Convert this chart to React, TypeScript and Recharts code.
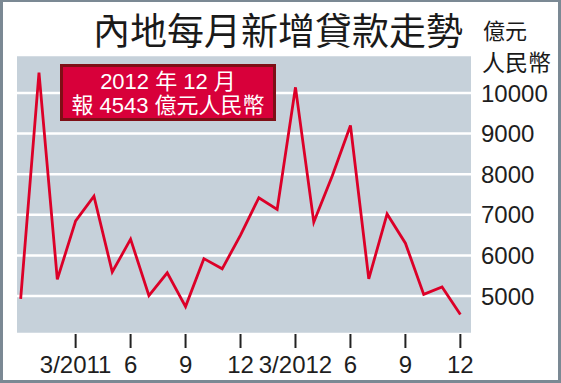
import { LineChart, Line, XAxis, YAxis, CartesianGrid } from "recharts";

// Dec 2010 .. Dec 2012, new RMB loans (億元)
const months = [
  "12/2010", "1/2011", "2/2011", "3/2011", "4/2011", "5/2011", "6/2011",
  "7/2011", "8/2011", "9/2011", "10/2011", "11/2011", "12/2011",
  "1/2012", "2/2012", "3/2012", "4/2012", "5/2012", "6/2012",
  "7/2012", "8/2012", "9/2012", "10/2012", "11/2012", "12/2012",
];
const loans = [
  4930, 10500, 5410, 6850, 7460, 5590, 6400,
  5010, 5570, 4740, 5920, 5670, 6500,
  7420, 7130, 10140, 6820, 7950, 9200,
  5420, 7020, 6300, 5040, 5220, 4543,
];
const xTickIdx = [3, 6, 9, 12, 15, 18, 21, 24];
const xTickLabels = ["3/2011", "6", "9", "12", "3/2012", "6", "9", "12"];
const yTicks = [5000, 6000, 7000, 8000, 9000, 10000];

const data = months.map((m, i) => ({ idx: i, month: m, value: loans[i] }));

const font = "'Liberation Sans', Arial, 'Noto Sans CJK TC', sans-serif";
const cjk = "'Noto Sans CJK TC', 'Liberation Sans', sans-serif";

export default function App() {
  return (
    <div style={{ position: "fixed", left: 0, top: 0, width: 561, height: 383, background: "#fff", overflow: "hidden" }}>
      <div style={{ position: "absolute", left: 0, top: 0 }}>
        <LineChart width={561} height={383} data={data} margin={{ top: 55, right: 0, left: 17, bottom: 0 }}>
          <CartesianGrid vertical={false} fill="#c6d1da" stroke="#ffffff" strokeWidth={2.5} />
          <XAxis
            dataKey="idx"
            type="number"
            domain={[-0.2, 24.58]}
            ticks={xTickIdx}
            tickFormatter={(v: number) => xTickLabels[xTickIdx.indexOf(v)] ?? ""}
            height={49}
            axisLine={false}
            tickSize={14}
            tickMargin={8}
            tickLine={{ stroke: "#222", strokeWidth: 2 }}
            tick={{ fill: "#1e1e1e", fontSize: 24, fontFamily: font }}
            interval={0}
          />
          <YAxis
            orientation="right"
            domain={[4064, 10936]}
            ticks={yTicks}
            allowDataOverflow
            width={90}
            axisLine={false}
            tickLine={false}
            tickSize={0}
            tickMargin={10}
            tick={{ fill: "#1e1e1e", fontSize: 24, fontFamily: font, textAnchor: "start" }}
          />
          <Line
            type="linear"
            dataKey="value"
            stroke="#dc0028"
            strokeWidth={2.8}
            dot={false}
            isAnimationActive={false}
          />
        </LineChart>
      </div>

      <div style={{ position: "absolute", left: 93, top: 11, fontFamily: cjk, fontSize: 37, lineHeight: "37px", color: "#1a1a1a", whiteSpace: "nowrap" }}>
        內地每月新增貸款走勢
      </div>
      <div style={{ position: "absolute", left: 483, top: 18, fontFamily: cjk, fontSize: 22, lineHeight: "22px", color: "#1a1a1a", whiteSpace: "nowrap" }}>
        億元
      </div>
      <div style={{ position: "absolute", left: 482, top: 50, fontFamily: cjk, fontSize: 23, lineHeight: "23px", color: "#1a1a1a", whiteSpace: "nowrap" }}>
        人民幣
      </div>

      <div
        style={{
          position: "absolute",
          left: 60,
          top: 64,
          width: 216,
          height: 57,
          boxSizing: "border-box",
          background: "#d8003a",
          border: "3px solid #7e0f16",
          color: "#fff",
          fontFamily: font,
          fontSize: 22,
          lineHeight: "24px",
          textAlign: "center",
          paddingTop: 3,
          whiteSpace: "nowrap",
        }}
      >
        <div>2012 年 12 月</div>
        <div>報 4543 億元人民幣</div>
      </div>

      <div
        style={{
          position: "absolute",
          left: 0,
          top: 0,
          width: 561,
          height: 383,
          boxSizing: "border-box",
          borderStyle: "solid",
          borderColor: "#7b8994",
          borderWidth: "2px 3px 3px 3px",
          pointerEvents: "none",
        }}
      />
    </div>
  );
}
